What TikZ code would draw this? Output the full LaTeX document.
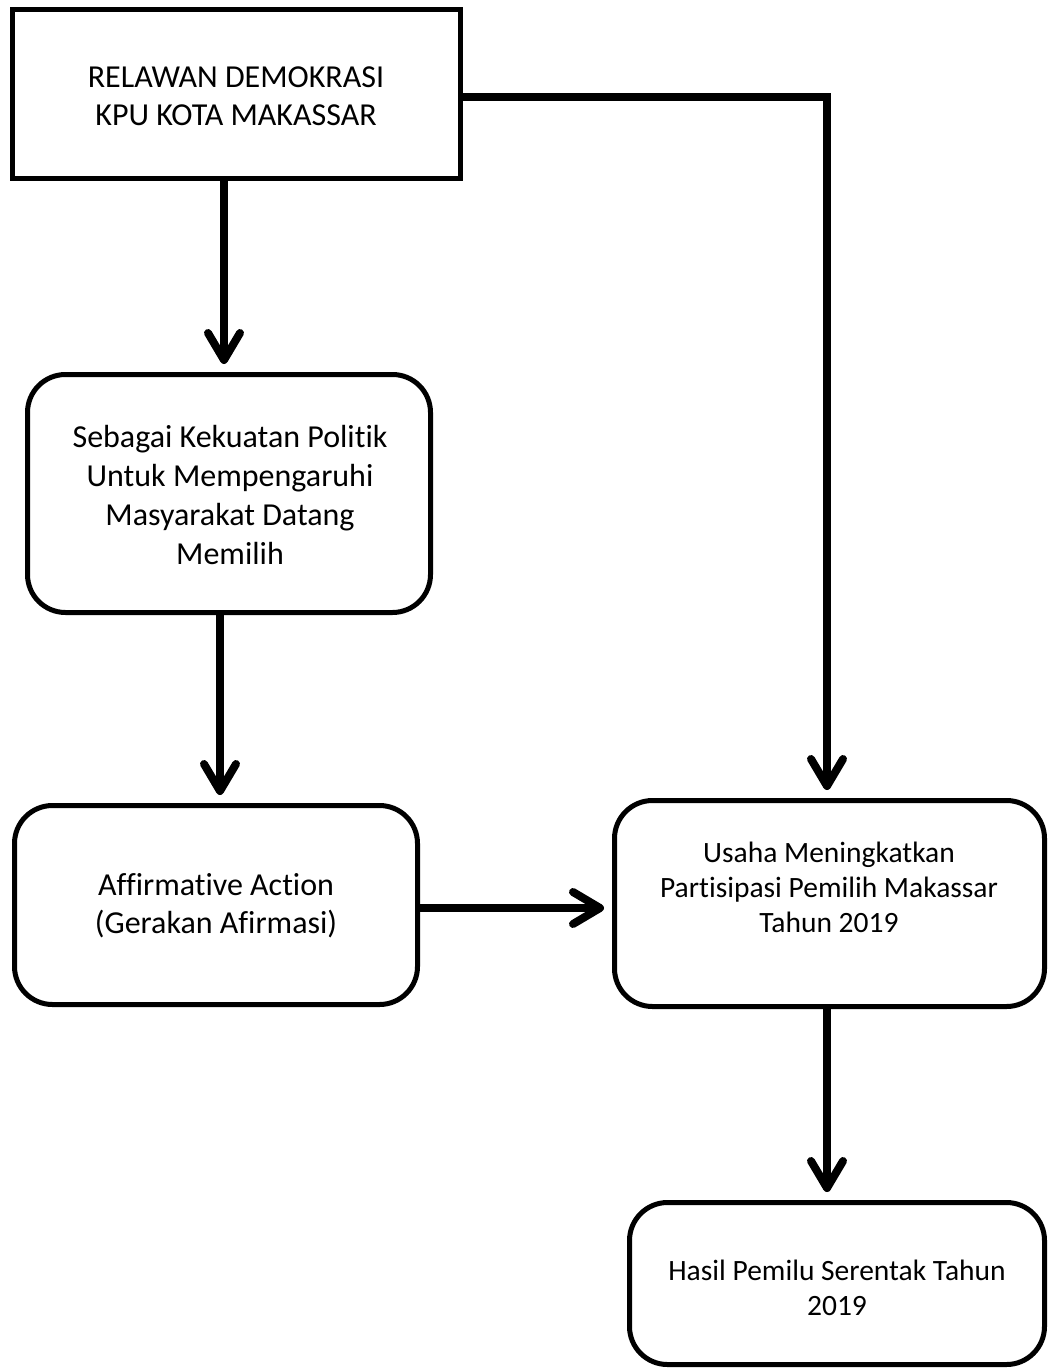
\documentclass[tikz,border=0pt]{standalone}
\usepackage{fontspec}
\setmainfont{Carlito}[Ligatures=NoCommon]
\usetikzlibrary{arrows.meta}
\begin{document}
\begin{tikzpicture}[x=1pt,y=-1pt,
  sqbox/.style={draw=black,line width=5pt,fill=white,inner sep=0pt},
  rbox/.style={draw=black,line width=5pt,fill=white,rounded corners=38pt,inner sep=0pt},
  bigtxt/.style={align=center,font=\fontsize{32}{38}\selectfont,inner sep=0pt},
  smtxt/.style={align=center,font=\fontsize{29.5}{35}\selectfont,inner sep=0pt},
  arr/.style={line width=8pt,-{Straight Barb[length=27pt,width=32pt,round]},shorten >=8pt}
]
\useasboundingbox (0,0) rectangle (1048,1370);
% boxes
\node[sqbox,minimum width=448pt,minimum height=169pt] (b1) at (236.5,94) {};
\node[rbox,minimum width=403pt,minimum height=238pt] (b2) at (229,493.5) {};
\node[rbox,minimum width=403pt,minimum height=199pt] (b3) at (216,905) {};
\node[rbox,minimum width=430pt,minimum height=206pt] (b4) at (829.5,903.5) {};
\node[rbox,minimum width=415pt,minimum height=162pt] (b5) at (837,1283.5) {};
% texts
\node[bigtxt] (t1) at (236,96) {RELAWAN DEMOKRASI\\KPU KOTA MAKASSAR};
\node[bigtxt,font=\fontsize{32}{39}\selectfont] (t2) at (230,495) {Sebagai Kekuatan Politik\\Untuk Mempengaruhi\\Masyarakat Datang\\Memilih};
\node[bigtxt] (t3) at (216,906) {Affirmative Action\\(Gerakan Afirmasi)};
\node[smtxt] (t4) at (829,887) {Usaha Meningkatkan\\Partisipasi Pemilih Makassar\\Tahun 2019};
\node[smtxt] (t5) at (837,1288) {Hasil Pemilu Serentak Tahun\\2019};
% helper coordinates
\coordinate (xa) at (224,0);
\coordinate (xb) at (220,0);
\coordinate (xc) at (827,0);
\coordinate (ya) at (0,97);
\coordinate (yb) at (0,908);
% connectors
\draw[arr] (b1.south -| xa) -- (b2.north -| xa);
\draw[arr] (b2.south -| xb) -- (b3.north -| xb);
\draw[arr] (b3.east |- yb) -- (b4.west |- yb);
\draw[arr,line join=miter] (b1.east |- ya) -- (xc |- ya) -- (b4.north -| xc);
\draw[arr] (b4.south -| xc) -- (b5.north -| xc);
\end{tikzpicture}
\end{document}
